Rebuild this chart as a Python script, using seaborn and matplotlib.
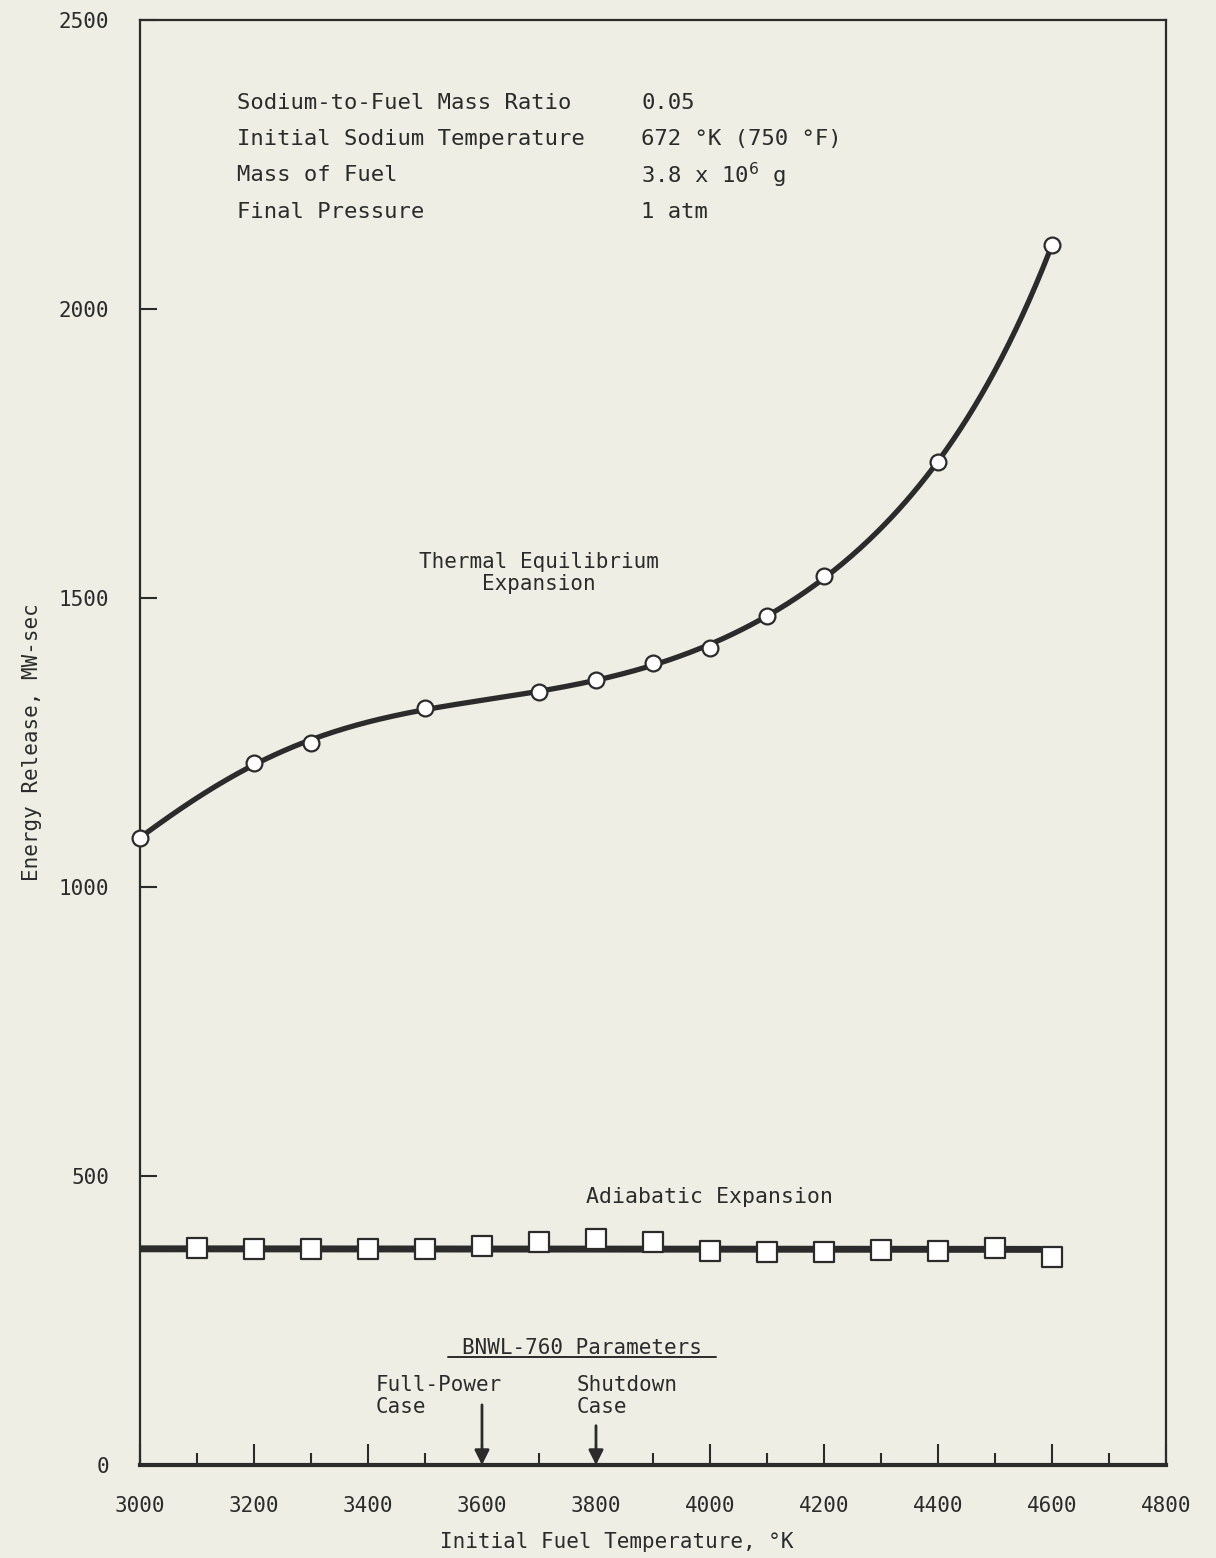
import numpy as np
import pandas as pd
import matplotlib
matplotlib.use("Agg")
import matplotlib.pyplot as plt
import seaborn as sns

# Thermal equilibrium expansion (circles)
thermal_temp = [3000, 3200, 3300, 3500, 3700, 3800, 3900, 4000, 4100, 4200, 4400, 4600]
thermal_energy = [1085, 1215, 1249, 1310, 1337, 1358, 1388, 1413, 1469, 1538, 1735, 2111]

# Adiabatic expansion (squares)
adiabatic_temp = [3100, 3200, 3300, 3400, 3500, 3600, 3700, 3800, 3900, 4000,
                  4100, 4200, 4300, 4400, 4500, 4600]
adiabatic_energy = [375, 374, 374, 374, 374, 379, 386, 391, 386, 370,
                    368, 368, 372, 370, 375, 360]
# faired line through the adiabatic points
adiabatic_line_temp = [3000, 4580]
adiabatic_line_energy = [374, 373]

# BNWL-760 reference cases
case_labels = ["Full-Power\nCase", "Shutdown\nCase"]
case_temp = [3600, 3800]

x_ticks = [3000, 3200, 3400, 3600, 3800, 4000, 4200, 4400, 4600, 4800]
y_ticks = [0, 500, 1000, 1500, 2000, 2500]

params_names = ["Sodium-to-Fuel Mass Ratio", "Initial Sodium Temperature",
                "Mass of Fuel", "Final Pressure"]
params_values = ["0.05", "672 °K (750 °F)", r"3.8 x 10$^{6}$ g", "1 atm"]


def faired_curve(x, y, deg=6, n=400):
    """Least-squares polynomial fairing of the points, as a smooth curve."""
    x = np.asarray(x, float)
    y = np.asarray(y, float)
    u = (x - x.mean()) / (x.max() - x.min())
    coef = np.polyfit(u, y, deg)
    xs = np.linspace(x.min(), x.max(), n)
    us = (xs - x.mean()) / (x.max() - x.min())
    return xs, np.polyval(coef, us)


sns.set_theme(style="ticks")
ink = "#2b2b2b"
paper = "#efeee4"
plt.rcParams["font.family"] = ["DejaVu Sans Mono", "DejaVu Sans"]
plt.rcParams["text.color"] = ink
plt.rcParams["axes.labelcolor"] = ink
plt.rcParams["mathtext.fontset"] = "dejavusans"

fig = plt.figure(figsize=(12.16, 15.58), dpi=100, facecolor=paper)
ax = fig.add_axes([0.1151, 0.0597, 0.8438, 0.9275])
ax.set_facecolor(paper)

# smooth thermal curve
sx, sy = faired_curve(thermal_temp, thermal_energy)
sns.lineplot(x=sx, y=sy, ax=ax, color=ink, lw=3.8, sort=False, zorder=2)
sns.scatterplot(x=thermal_temp, y=thermal_energy, ax=ax, marker="o", s=130,
                facecolor="white", edgecolor=ink, linewidth=1.6, zorder=3,
                clip_on=False)

# adiabatic line
sns.lineplot(x=adiabatic_line_temp, y=adiabatic_line_energy, ax=ax, color=ink,
             lw=5, zorder=2)
sns.scatterplot(x=adiabatic_temp, y=adiabatic_energy, ax=ax, marker="s", s=190,
                facecolor="white", edgecolor=ink, linewidth=1.6, zorder=3)

ax.set_xlim(3000, 4800)
ax.set_ylim(0, 2500)
ax.set_xticks(x_ticks)
ax.set_xticks(np.arange(3100, 4800, 200), minor=True)
ax.set_yticks(y_ticks)
ax.tick_params(axis="x", which="major", direction="in", length=15, width=1.5,
               color=ink, pad=22, labelsize=15, labelcolor=ink)
ax.tick_params(axis="x", which="minor", direction="in", length=8.5, width=1.5,
               color=ink)
ax.tick_params(axis="y", which="major", direction="in", length=12, width=1.5,
               color=ink, pad=22, labelsize=15, labelcolor=ink)
for s in ax.spines.values():
    s.set_color(ink)
    s.set_linewidth(1.6)
ax.spines["bottom"].set_linewidth(3)

ax.set_xlabel("Initial Fuel Temperature, °K", fontsize=15, labelpad=12)
ax.xaxis.label.set_x(0.465)
ax.set_ylabel("Energy Release, MW-sec", fontsize=15, labelpad=12)

# parameter block
for i, (n, v) in enumerate(zip(params_names, params_values)):
    y = 2356 - i * 62.5
    ax.text(3171, y, n, fontsize=16, va="center", ha="left")
    ax.text(3879, y, v, fontsize=16, va="center", ha="left")

ax.text(3700, 1543, "Thermal Equilibrium\nExpansion", fontsize=15,
        ha="center", va="center", linespacing=1.15)
ax.text(4000, 464, "Adiabatic Expansion", fontsize=15.5, ha="center", va="center")

ax.text(3775, 202, "BNWL-760 Parameters", fontsize=15, ha="center", va="center")
ax.plot([3540, 4010], [186, 186], color=ink, lw=1.4)

text_x = [3414, 3766]
for lab, tx, cx, top in zip(case_labels, text_x, case_temp, [104, 68]):
    ax.text(tx, 119, lab, fontsize=15, ha="left", va="center", linespacing=1.15)
    ax.annotate("", xy=(cx, 0), xytext=(cx, top),
                arrowprops=dict(arrowstyle="-|>", color=ink, lw=2,
                                mutation_scale=22, shrinkA=0, shrinkB=0))

fig.savefig("out.png", dpi=100, facecolor=paper)
